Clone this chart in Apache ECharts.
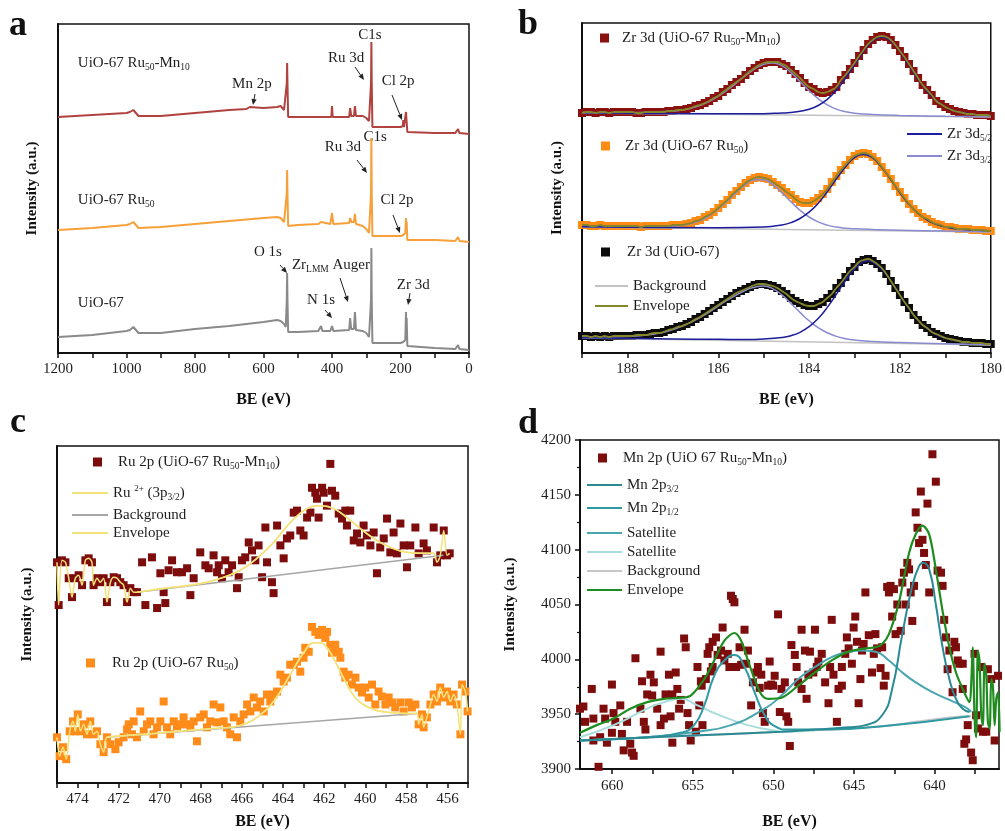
<!DOCTYPE html>
<html><head><meta charset="utf-8">
<script src="https://cdn.jsdelivr.net/npm/echarts@6/dist/echarts.min.js"></script>
<style>html,body{margin:0;padding:0;background:#fff}#c{width:1005px;height:831px}</style>
</head><body><div id="c"></div>
<script>
// ---------- Panel a: survey spectra [BE (eV), intensity a.u.] ----------
const surveyGray = [[1200,16],[1100,18],[1000,22],[990,23],[980,26],[975,25],[965,20],[960,18],[900,20],[800,24],[700,27],[600,31],[560,33],[550,32],[540,29],[535,26],[532,53],[531,80],[530,53],[528,21],[500,21],[440,22],[432,27],[428,22],[405,22],[400,27],[396,22],[350,23],[347,35],[344,24],[336,24],[333,41],[330,23],[310,22],[300,20],[292,16],[287,15],[286,53],[285,105],[284,53],[282,10],[200,10],[192,11],[186,13],[184,41],[183,28],[182,35],[180,7],[100,5],[40,4],[32,8],[28,4],[0,3]];
const surveyOrange = [[1200,123],[1100,125],[1000,128],[990,129],[980,131],[975,130],[965,125],[960,124],[900,126],[800,129],[700,132],[600,135],[560,136],[550,135],[540,131],[535,129],[532,160],[531,183],[530,160],[528,127],[500,128],[440,129],[432,131],[428,129],[405,129],[400,140],[396,129],[350,130],[347,135],[344,131],[336,131],[333,139],[330,129],[310,127],[300,124],[292,120],[287,118],[286,160],[285,215],[284,160],[282,117],[200,117],[192,118],[186,120],[184,135],[183,128],[182,131],[180,113],[100,113],[40,112],[32,116],[28,112],[0,111]];
const surveyRed = [[1200,236],[1100,238],[1000,240],[990,241],[980,243],[975,242],[965,237],[960,236],[900,237],[800,240],[700,243],[650,244],[640,246],[635,244],[600,245],[560,246],[550,247],[540,243],[535,241],[532,270],[531,290],[530,270],[528,236],[500,236],[402,236],[400,247],[398,236],[350,236],[347,245],[344,237],[336,237],[333,247],[330,237],[310,237],[300,235],[292,232],[287,231],[286,270],[285,311],[284,270],[282,226],[200,226],[193,227],[192,233],[190,226],[186,225],[184,241],[182,231],[180,221],[100,220],[40,220],[32,224],[28,220],[0,219]];
const surveyTicks = [0,100,200,300,400,500,600,700,800,900,1000,1100,1200];
const surveyLabels = [0,200,400,600,800,1000,1200];
// annotations [text, BE, intensity, align]
const surveyNotes = [
 ['{n|UiO-67 Ru}{s|50}{n|-Mn}{s|10}',1142,290,'left'],
 ['{n|Mn 2p}',634,269,'center'],
 ['{n|C1s}',289,318,'center'],
 ['{n|Ru 3d}',359,295,'center'],
 ['{n|Cl 2p}',207,272,'center'],
 ['{n|UiO-67 Ru}{s|50}',1142,153,'left'],
 ['{n|C1s}',274,216,'center'],
 ['{n|Ru 3d}',368,206,'center'],
 ['{n|Cl 2p}',210,153,'center'],
 ['{n|O 1s}',587,101,'center'],
 ['{n|Zr}{s|LMM}{n| Auger}',403,88,'center'],
 ['{n|N 1s}',432,53,'center'],
 ['{n|Zr 3d}',163,68,'center'],
 ['{n|UiO-67}',1142,50,'left']
];
const surveyArrows = [[624.8,259,630.7,248],[332.8,286,306.6,273],[224.8,258,195.6,233],[327,193,297.8,180],[221.9,138,201.5,120],[551.8,88,531.4,80],[376.6,75,353.3,51],[420.4,43,400,35],[172.3,60,178.1,48]];

// ---------- Panel b: Zr 3d ----------
const zrBE = [189.0,188.9,188.8,188.7,188.6,188.5,188.4,188.3,188.2,188.1,188.0,187.9,187.8,187.7,187.6,187.5,187.4,187.3,187.2,187.1,187.0,186.9,186.8,186.7,186.6,186.5,186.4,186.3,186.2,186.1,186.0,185.9,185.8,185.7,185.6,185.5,185.4,185.3,185.2,185.1,185.0,184.9,184.8,184.7,184.6,184.5,184.4,184.3,184.2,184.1,184.0,183.9,183.8,183.7,183.6,183.5,183.4,183.3,183.2,183.1,183.0,182.9,182.8,182.7,182.6,182.5,182.4,182.3,182.2,182.1,182.0,181.9,181.8,181.7,181.6,181.5,181.4,181.3,181.2,181.1,181.0,180.9,180.8,180.7,180.6,180.5,180.4,180.3,180.2,180.1,180.0];
const zrRed = [240,241,241,240,241,241,240,241,241,241,241,241,240,240,241,241,241,241,241,242,242,243,243,244,245,247,248,250,252,255,257,261,264,268,271,274,278,282,285,288,290,291,291,291,289,287,283,279,275,270,266,264,261,260,261,263,266,273,278,284,290,297,303,309,313,316,317,316,313,308,302,296,289,282,275,268,263,258,252,249,246,244,242,241,240,239,239,238,238,238,237];
const zrOrange = [128,128,127,127,128,127,127,127,127,127,127,127,127,126,127,127,127,127,127,127,128,128,128,129,130,132,133,136,138,141,145,149,153,158,162,166,170,173,175,176,175,174,171,168,165,161,158,154,151,150,150,152,155,159,164,171,177,183,188,193,197,199,200,199,196,192,186,180,174,167,161,155,149,144,140,136,134,131,129,128,126,126,125,124,124,124,123,123,123,122,122];
const zrBlack = [17,17,16,17,16,17,16,17,17,17,17,17,18,18,18,19,20,20,21,23,24,26,27,29,31,34,36,39,42,45,48,51,54,57,60,62,64,66,68,69,69,68,67,65,62,59,55,52,50,48,47,47,49,51,55,59,65,70,76,82,86,91,93,94,92,89,85,79,72,65,58,51,45,38,33,28,25,21,19,17,15,14,13,12,11,11,10,10,10,9,9];
const zrRedBg = [[189,240],[180,236]];
const zrOrgBg = [[189,126],[180,121]];
const zrBlkBg = [[189,15],[180,8]];
const zrRed32 = [[189,240.5],[188,240.2],[187,241.9],[186.6,244.7],[186.2,251.5],[185.8,263],[185.4,277.4],[185,288.6],[184.8,290.1],[184.6,287.4],[184.4,280.5],[184.2,271.5],[184,262.3],[183.8,254.3],[183.6,248.2],[183.4,243.9],[183.2,241.3],[183,239.8],[182.6,238.5],[182,237.6],[181,236.8],[180,236.3]];
const zrRed52 = [[189,240.2],[186,239.3],[185,239.3],[184.6,240],[184.4,240.5],[184.2,241.8],[184,243.7],[183.8,247.5],[183.6,253.7],[183.4,262.7],[183.2,274.6],[183,288.3],[182.8,301.9],[182.6,312.1],[182.4,316.1],[182.2,312],[182,301.6],[181.8,287.8],[181.6,273.9],[181.4,261.8],[181.2,252.6],[181,246.2],[180.8,242.3],[180.6,240.2],[180.4,238.8],[180.2,238.1],[180,237.4]];
const zrOrg32 = [[189,126.4],[188,126],[187,126.9],[186.6,129.5],[186.2,137.2],[185.8,152.1],[185.4,168.6],[185.2,173.3],[185,173.2],[184.8,168.3],[184.6,160.4],[184.4,151.3],[184.2,142.8],[184,136],[183.8,131.1],[183.6,127.9],[183.4,125.9],[183.2,124.8],[183,124.2],[182.6,123.5],[182,122.7],[181,122],[180,121.3]];
const zrOrg52 = [[189,126.3],[186,125.2],[185,126],[184.6,128],[184.4,130.4],[184.2,134.5],[184,140.9],[183.8,149.7],[183.6,161.2],[183.4,174],[183.2,186.1],[183,195.3],[182.8,198.6],[182.6,195],[182.4,185.6],[182.2,173.3],[182,160.3],[181.8,148.6],[181.6,139.6],[181.4,133],[181.2,128.7],[181,126],[180.6,123.5],[180,122.3]];
const zrBlk32 = [[189,15.9],[188,16.5],[187.4,19],[187,23.4],[186.6,30.6],[186.2,40.9],[185.8,52.8],[185.4,62.8],[185.2,65.8],[185,66.9],[184.8,64.4],[184.6,58.1],[184.4,49.6],[184.2,40.6],[184,32.2],[183.8,25.3],[183.6,20.3],[183.4,16.6],[183.2,14.3],[183,12.9],[182.6,11.4],[182,10.4],[181,9.2],[180,8.3]];
const zrBlk52 = [[189,15.3],[187,14],[186,13.7],[185.4,13.5],[185,14],[184.6,15.5],[184.4,17.3],[184.2,20.7],[184,26.3],[183.8,34.4],[183.6,45.6],[183.4,58.7],[183.2,72.3],[183,84.1],[182.8,91.1],[182.7,92.1],[182.6,91],[182.4,83.7],[182.2,71.6],[182,57.7],[181.8,44.2],[181.6,32.8],[181.4,24.3],[181.2,18.4],[181,14.7],[180.6,11.2],[180.2,9.8],[180,9.3]];
const zrTicks = [180,181,182,183,184,185,186,187,188,189];
const zrLabels = [180,182,184,186,188];

// ---------- Panel c: Ru 2p ----------
const ruRedZigL = [[475.00,222],[474.92,179],[474.76,224],[474.59,222],[474.43,206],[474.27,187],[474.11,206],[473.95,209],[473.78,199],[473.62,224],[473.46,226],[473.30,222],[473.22,199],[473.05,206],[472.89,202],[472.73,206],[472.57,182],[472.40,202],[472.24,207],[472.08,206],[471.92,202],[471.76,199],[471.59,182],[471.43,196],[471.27,192],[471.11,192]];
const ruRedPts = [[470.86,222],[470.70,179],[470.38,227],[470.13,176],[469.97,211],[469.81,192],[469.73,181],[469.57,214],[469.40,224],[469.16,212],[468.92,212],[468.67,216],[468.51,189],[468.35,206],[468.03,232],[467.78,219],[467.62,216],[467.38,229],[467.21,212],[467.13,219],[466.97,206],[466.81,224],[466.65,212],[466.48,219],[466.24,196],[466.16,207],[466.00,224],[465.84,227],[465.67,242],[465.51,234],[465.35,224],[465.19,239],[465.02,207],[464.86,257],[464.78,222],[464.54,202],[464.46,191],[464.29,259],[464.13,239],[463.97,226],[463.81,246],[463.65,249],[463.48,272],[463.32,274],[463.16,254],[463.00,249],[462.83,267],[462.67,272],[462.59,297],[462.43,292],[462.35,286],[462.27,267],[462.10,297],[462.02,292],[461.86,279],[461.70,321],[461.62,294],[461.46,289],[461.29,271],[461.13,266],[460.97,274],[460.89,259],[460.73,274],[460.56,244],[460.40,251],[460.24,242],[460.08,259],[459.92,249],[459.75,239],[459.59,252],[459.43,211],[459.27,237],[459.10,246],[458.94,266],[458.78,232],[458.62,252],[458.46,231],[458.29,261],[458.13,239],[457.97,217],[457.81,239],[457.56,257],[457.40,231],[457.16,241],[457.00,234],[456.67,257]];
const ruRedZigR = [[456.51,222],[456.35,229],[456.18,254],[456.02,229],[455.89,231]];
const ruRedFit = [[471.11,192],[470.13,195],[468.51,199],[467.70,202],[466.89,207],[466.08,214],[465.27,226],[464.46,242],[463.65,262],[462.83,276],[462.19,279],[461.54,276],[460.89,267],[460.24,256],[459.59,246],[458.78,237],[457.97,232],[457.16,231],[456.67,231]];
const ruRedBg = [[471.11,192],[456.2,229]];
const ruOrgZigL = [[475.00,46],[474.87,27],[474.71,36],[474.55,24],[474.38,52],[474.22,62],[474.11,52],[473.99,69],[473.86,52],[473.70,59],[473.54,49],[473.38,62],[473.22,49],[473.05,52],[472.89,39],[472.73,31],[472.57,46]];
const ruOrgPts = [[472.40,39],[472.16,34],[472.00,41],[471.76,46],[471.59,54],[471.51,59],[471.35,49],[471.27,62],[471.11,46],[470.95,72],[470.78,52],[470.62,59],[470.46,62],[470.30,49],[470.13,56],[469.97,62],[469.81,82],[469.65,56],[469.49,49],[469.32,62],[469.16,57],[469.00,59],[468.84,66],[468.67,59],[468.51,56],[468.35,62],[468.19,42],[468.03,66],[467.86,69],[467.70,56],[467.54,62],[467.38,79],[467.21,61],[467.05,76],[466.89,62],[466.73,56],[466.57,49],[466.40,66],[466.24,46],[466.08,62],[465.92,69],[465.75,79],[465.59,72],[465.43,86],[465.27,76],[465.11,82],[464.94,72],[464.78,89],[464.62,82],[464.46,89],[464.29,92],[464.13,109],[463.97,102],[463.81,106],[463.65,119],[463.48,119],[463.32,122],[463.16,112],[463.00,126],[462.92,136],[462.75,132],[462.59,157],[462.43,152],[462.27,149],[462.10,154],[461.94,146],[461.86,152],[461.70,139],[461.62,131],[461.46,139],[461.29,132],[461.21,126],[461.05,112],[460.97,106],[460.81,109],[460.65,99],[460.48,106],[460.32,96],[460.16,91],[460.00,96],[459.83,86],[459.67,99],[459.51,79],[459.35,92],[459.19,87],[459.02,79],[458.86,86],[458.70,81],[458.54,76],[458.29,81],[458.13,72],[457.89,81],[457.73,76],[457.56,79]];
const ruOrgZigR = [[457.40,59],[457.24,69],[457.16,56],[457.00,66],[456.83,79],[456.67,89],[456.51,82],[456.35,96],[456.18,86],[456.02,92],[455.86,82],[455.70,89],[455.54,79],[455.37,49],[455.29,99],[455.13,92],[455.02,72]];
const ruOrgFit = [[472.57,46],[471.76,47.5],[470.13,50],[468.51,53],[466.89,55.5],[466.08,58],[465.27,66],[464.46,82],[463.65,109],[463.00,131],[462.51,141],[462.19,141],[461.86,136],[461.38,119],[460.89,99],[460.40,84],[459.59,74],[458.78,71],[457.97,70],[457.48,70]];
const ruOrgBg = [[472.57,46],[457.48,70]];
const ruTicks = [455,456,457,458,459,460,461,462,463,464,465,466,467,468,469,470,471,472,473,474,475];
const ruLabels = [456,458,460,462,464,466,468,470,472,474];

// ---------- Panel d: Mn 2p ----------
const mnPts = [[662.00,3955],[661.79,3957],[661.69,3943],[661.27,3973],[661.17,3946],[661.17,3926],[660.85,3902],[660.75,3929],[660.54,3955],[660.44,3946],[660.33,3924],[660.02,3977],[660.02,3933],[659.92,3951],[659.81,3943],[659.50,3958],[659.40,3932],[659.29,3917],[659.08,3943],[658.88,3923],[658.77,3915],[658.67,3912],[658.56,4001],[658.25,3955],[658.15,3980],[658.04,3943],[657.94,3936],[657.83,3968],[657.63,3986],[657.52,3967],[657.42,3979],[657.21,3955],[657.00,4007],[657.00,3940],[656.79,3946],[656.69,3968],[656.48,3986],[656.38,3948],[656.27,3968],[656.27,3924],[656.06,3988],[655.96,3973],[655.85,3955],[655.75,3963],[655.54,4019],[655.44,4011],[655.33,3951],[655.23,3940],[655.13,3926],[654.81,3934],[654.71,3993],[654.60,3958],[654.50,3980],[654.45,3976],[654.40,3940],[654.19,3982],[654.08,4005],[653.98,4011],[653.88,3989],[653.77,3993],[653.77,4016],[653.56,4020],[653.46,4004],[653.25,4008],[653.15,4029],[653.04,3999],[652.83,4005],[652.73,3993],[652.63,4058],[652.52,4055],[652.42,4052],[652.31,3993],[652.10,4011],[652.00,3995],[651.79,4027],[651.69,3996],[651.58,4008],[651.38,3958],[651.27,3979],[651.06,3988],[650.96,3993],[650.85,3974],[650.75,3986],[650.65,3951],[650.54,3943],[650.33,3976],[650.23,3998],[650.13,3977],[650.02,3976],[649.92,3985],[649.71,4041],[649.60,3952],[649.50,3973],[649.29,3979],[649.19,3948],[649.08,3943],[648.98,3921],[648.88,4013],[648.67,4004],[648.56,3993],[648.46,3979],[648.25,3973],[648.25,4027],[648.04,4008],[647.94,3964],[647.83,3986],[647.73,4007],[647.52,3988],[647.42,4027],[647.31,3993],[647.21,3998],[647.00,4005],[646.79,3979],[646.58,3960],[646.48,3993],[646.38,4036],[646.27,3986],[646.06,3943],[645.96,3973],[645.75,3993],[645.75,3976],[645.54,4005],[645.44,4020],[645.33,4010],[645.13,3996],[645.02,4029],[644.92,4039],[644.81,4016],[644.71,3960],[644.60,3982],[644.50,4008],[644.40,4014],[644.29,4061],[644.08,4022],[643.88,3988],[643.77,4005],[643.67,4023],[643.56,4010],[643.35,3992],[643.25,4011],[643.15,3976],[643.04,3985],[642.94,4066],[642.83,4061],[642.73,4067],[642.63,4039],[642.52,4064],[642.42,4023],[642.31,4050],[642.10,4026],[642.00,4070],[641.90,4079],[641.79,4050],[641.69,4088],[641.58,4082],[641.48,4061],[641.38,4035],[641.27,4067],[641.17,4134],[641.06,4120],[640.96,4106],[640.85,4153],[640.75,4109],[640.65,4097],[640.54,4086],[640.44,4142],[640.33,4061],[640.13,4187],[639.92,4162],[639.81,4081],[639.60,4079],[639.50,4067],[639.40,4036],[639.29,4020],[639.19,3991],[639.08,4008],[638.88,3970],[638.77,4016],[638.67,4011],[638.56,3999],[638.46,3996],[638.25,3996],[638.25,3973],[638.15,3923],[638.04,3927],[637.94,3940],[637.73,3915],[637.63,3908],[637.52,4005],[637.42,3949],[637.31,3937],[637.10,3993],[637.00,3934],[636.79,3934],[636.69,3991],[636.48,3982],[636.27,3926],[636.06,3985],[635.96,3967]];
const mnEnv = [[662.00,3933],[660.96,3940],[659.92,3946],[658.88,3955],[657.83,3961],[656.79,3964],[655.75,3965],[655.13,3967],[654.29,3982],[653.67,3999],[653.04,4017],[652.42,4024],[652.00,4017],[651.58,3999],[651.17,3982],[650.75,3968],[650.33,3964],[649.50,3965],[648.46,3976],[647.42,3988],[646.38,3999],[645.33,4007],[644.29,4010],[643.67,4011],[643.25,4014],[642.83,4023],[642.21,4052],[641.58,4097],[641.17,4114],[640.75,4122],[640.33,4114],[639.92,4082],[639.50,4044],[639.08,4011],[638.67,3988],[638.25,3973],[637.83,3961],[637.73,3976],[637.63,4011],[637.52,3949],[637.42,3929],[637.31,4008],[637.21,3999],[637.10,3949],[637.00,3940],[636.90,3996],[636.79,3985],[636.69,3943],[636.58,3937],[636.48,3982],[636.38,3976],[636.27,3940],[636.17,3964],[636.06,3970],[635.96,3934]];
const mnP32 = [[662.00,3926],[655.75,3930],[649.50,3934],[647.42,3936],[645.33,3938],[644.29,3940],[643.25,3949],[642.63,3973],[642.00,4023],[641.38,4067],[640.96,4085],[640.71,4088],[640.33,4082],[639.92,4050],[639.50,4011],[639.08,3982],[638.67,3964],[638.25,3955],[637.83,3952]];
const mnP12 = [[662.00,3926],[657.83,3929],[655.75,3933],[654.92,3940],[654.29,3958],[653.67,3985],[653.04,3999],[652.42,4004],[651.79,3993],[651.17,3970],[650.54,3949],[649.92,3939],[649.08,3936],[647.42,3936],[643.25,3939],[637.83,3948]];
const mnSat1 = [[662.00,3926],[657.83,3929],[654.71,3934],[652.63,3940],[650.54,3955],[649.50,3967],[648.46,3982],[647.42,3993],[646.38,4002],[645.33,4007],[644.50,4008],[643.67,4007],[642.83,3999],[642.00,3988],[641.17,3979],[640.13,3970],[639.08,3963],[638.04,3956],[637.73,3952]];
const mnSat2 = [[662.00,3929],[659.92,3940],[657.83,3955],[656.79,3961],[655.75,3964],[654.71,3958],[653.67,3951],[652.63,3945],[651.58,3940],[650.33,3936],[649.08,3934],[647.42,3935]];
const mnBg = [[662.00,3926],[655.75,3930],[649.50,3934],[643.25,3939],[641.17,3943],[639.08,3947],[637.73,3948]];
const mnTicks = [637.5,640,642.5,645,647.5,650,652.5,655,657.5,660];
const mnLabels = [640,645,650,655,660];

// ---------- styling ----------
const F = "'Liberation Serif','Times New Roman',serif";
const TXT = '#1e1e1e';
const rich = {
  n:{fontFamily:F,fontSize:15,color:TXT,lineHeight:18},
  s:{fontFamily:F,fontSize:9.5,color:TXT,lineHeight:18,verticalAlign:'bottom'},
  p:{fontFamily:F,fontSize:9,color:TXT,lineHeight:18,verticalAlign:'top'}
};
const pair = (xs, ys) => xs.map((x, i) => [x, ys[i]]);
const plain = v => String(v);

const grids = [
  {left:58, top:24, width:411, height:329},
  {left:582, top:23, width:411, height:330},
  {left:57, top:446, width:411, height:339},
  {left:580, top:440, width:419, height:339}
].map(g => Object.assign(g, {show:true, borderColor:'#111', borderWidth:1.5, backgroundColor:'rgba(0,0,0,0)'}));

function xAx(gi, min, max, ticks, labels, gap, margin) {
  return {type:'value', gridIndex:gi, min, max, inverse:true,
    axisLine:{show:true, onZero:false, lineStyle:{color:'#111', width:2}},
    axisTick:{show:true, inside:false, length:5, lineStyle:{color:'#111', width:1.5}, customValues:ticks},
    axisLabel:{color:TXT, fontFamily:F, fontSize:15, margin:margin, customValues:labels, formatter:plain},
    splitLine:{show:false},
    name:'BE (eV)', nameLocation:'middle', nameGap:gap,
    nameTextStyle:{fontFamily:F, fontWeight:'bold', fontSize:16, color:'#111'}};
}
function yAx(gi, min, max, gap, extra) {
  return Object.assign({type:'value', gridIndex:gi, min, max,
    axisLine:{show:true, onZero:false, lineStyle:{color:'#111', width:2}},
    axisTick:{show:false}, axisLabel:{show:false}, splitLine:{show:false},
    name:'Intensity (a.u.)', nameLocation:'middle', nameGap:gap, nameRotate:90,
    nameTextStyle:{fontFamily:F, fontWeight:'bold', fontSize:15, color:'#111'}}, extra || {});
}

function ln(name, gi, data, color, width, smooth, z) {
  return {name, type:'line', xAxisIndex:gi, yAxisIndex:gi, data, symbol:'none', showSymbol:false,
    smooth: smooth, color: color, itemStyle:{color:color}, lineStyle:{color:color, width:width},
    z: z || 3, silent:true, animation:false};
}
function sc(name, gi, data, color, size) {
  return {name, type:'scatter', xAxisIndex:gi, yAxisIndex:gi, data, symbol:'rect', symbolSize:size,
    color: color, itemStyle:{color:color, opacity:1}, z:2, silent:true, animation:false};
}

const cBlue52 = '#1c1c9c', cBlue32 = '#8a8ad0', cOlive = '#86862a', cBgB = '#c2c2c2';
const cYel = '#f3e27a', cBgC = '#a6a6a6';
const cEnvD = '#1f8c1f', cP32 = '#2a8a94', cP12 = '#2f9aa2', cSat1 = '#4aa6ae', cSat2 = '#a9dcdc', cBgD = '#c6c6c6';

const series = [
  // a
  ln('a_gray', 0, surveyGray, '#8a8a8a', 2, false),
  ln('a_org', 0, surveyOrange, '#f7a03a', 2, false),
  ln('a_red', 0, surveyRed, '#b0423f', 2, false),
  // b
  sc('b_red', 1, pair(zrBE, zrRed), '#8b1010', 8),
  sc('b_org', 1, pair(zrBE, zrOrange), '#ff8a14', 8),
  sc('b_blk', 1, pair(zrBE, zrBlack), '#0c0c0c', 8),
  ln('b_bg', 1, zrRedBg, cBgB, 1.5, false),
  ln('b_bg', 1, zrOrgBg, cBgB, 1.5, false),
  ln('b_bg', 1, zrBlkBg, cBgB, 1.5, false),
  ln('b_d32', 1, zrRed32, cBlue32, 1.5, true),
  ln('b_d32', 1, zrOrg32, cBlue32, 1.5, true),
  ln('b_d32', 1, zrBlk32, cBlue32, 1.5, true),
  ln('b_d52', 1, zrRed52, cBlue52, 1.5, true),
  ln('b_d52', 1, zrOrg52, cBlue52, 1.5, true),
  ln('b_d52', 1, zrBlk52, cBlue52, 1.5, true),
  ln('b_env', 1, pair(zrBE, zrRed), cOlive, 1.8, true, 4),
  ln('b_env', 1, pair(zrBE, zrOrange), cOlive, 1.8, true, 4),
  ln('b_env', 1, pair(zrBE, zrBlack), cOlive, 1.8, true, 4),
  // c
  sc('c_red', 2, ruRedZigL.concat(ruRedPts, ruRedZigR), '#7d0c0c', 8),
  sc('c_org', 2, ruOrgZigL.concat(ruOrgPts, ruOrgZigR), '#ff8c1a', 8),
  ln('c_bg', 2, ruRedBg, cBgC, 1.5, false),
  ln('c_bg', 2, ruOrgBg, cBgC, 1.5, false),
  ln('c_ru', 2, ruRedFit, cYel, 1.5, true),
  ln('c_ru', 2, ruOrgFit, cYel, 1.5, true),
  ln('c_env', 2, ruRedZigL.concat(ruRedFit, ruRedZigR), cYel, 1.5, 0.3, 4),
  ln('c_env', 2, ruOrgZigL.concat(ruOrgFit, ruOrgZigR), cYel, 1.5, 0.3, 4),
  // d
  sc('d_pts', 3, mnPts, '#7d0c0c', 8),
  ln('d_bg', 3, mnBg, cBgD, 2, true),
  ln('d_sat2', 3, mnSat2, cSat2, 2, true),
  ln('d_sat1', 3, mnSat1, cSat1, 2, true),
  ln('d_p12', 3, mnP12, cP12, 2, true),
  ln('d_p32', 3, mnP32, cP32, 2, true),
  ln('d_env', 3, mnEnv, cEnvD, 2.2, 0.3, 4)
];

const legendText = {
  b_red:'{n|Zr 3d (UiO-67 Ru}{s|50}{n|-Mn}{s|10}{n|)}',
  b_org:'{n|Zr 3d (UiO-67 Ru}{s|50}{n|)}',
  b_blk:'{n|Zr 3d (UiO-67)}',
  b_bg:'{n|Background}', b_env:'{n|Envelope}',
  b_d52:'{n|Zr 3d}{s|5/2}', b_d32:'{n|Zr 3d}{s|3/2}',
  c_red:'{n|Ru 2p (UiO-67 Ru}{s|50}{n|-Mn}{s|10}{n|)}',
  c_ru:'{n|Ru }{p|2+}{n| (3p}{s|3/2}{n|)}',
  c_bg:'{n|Background}', c_env:'{n|Envelope}',
  c_org:'{n|Ru 2p (UiO-67 Ru}{s|50}{n|)}',
  d_pts:'{n|Mn 2p (UiO 67 Ru}{s|50}{n|-Mn}{s|10}{n|)}',
  d_p32:'{n|Mn 2p}{s|3/2}', d_p12:'{n|Mn 2p}{s|1/2}',
  d_sat1:'{n|Satellite}', d_sat2:'{n|Satellite}',
  d_bg:'{n|Background}', d_env:'{n|Envelope}'
};
// [series name, icon left, centre y, icon w, icon h, text left]
const legendPlaces = [
  ['b_red',600,38,9,9,622],['b_org',601,146,9,9,625],['b_blk',601,252,9,9,627],
  ['b_bg',595,286,33,2,632],['b_env',595,306,33,2,632],
  ['b_d52',907,134,35,2,945],['b_d32',907,156,35,2,945],
  ['c_red',93,462,9,9,118],['c_ru',72,493,36,2,110],['c_bg',72,515,36,2,110],['c_env',72,533,36,2,110],
  ['c_org',86,663,9,9,112],
  ['d_pts',598,458,9,9,623],['d_p32',587,485,35,2,626],['d_p12',587,508,35,2,626],
  ['d_sat1',587,533,35,2,626],['d_sat2',587,552,35,2,626],['d_bg',587,571,35,2,626],['d_env',587,590,35,2,626]
];
const legends = legendPlaces.map(p => ({
  data:[p[0]], left:p[1], top:p[2]-9, orient:'horizontal', icon:'rect', itemWidth:p[3], itemHeight:p[4],
  padding:0, selectedMode:false, formatter: n => legendText[n],
  textStyle:{fontFamily:F, fontSize:15, color:TXT, lineHeight:18, rich:rich, padding:[0,0,0,Math.max(0,p[5]-p[1]-p[3]-5)]}
}));

const chart = echarts.init(document.getElementById('c'));
chart.setOption({
  animation:false,
  backgroundColor:'#ffffff',
  grid: grids,
  xAxis: [
    xAx(0, 0, 1200, surveyTicks, surveyLabels, 39, 9),
    xAx(1, 180, 189, zrTicks, zrLabels, 39, 9),
    xAx(2, 455, 475, ruTicks, ruLabels, 31, 9),
    xAx(3, 636, 662, mnTicks, mnLabels, 45, 10)
  ],
  yAxis: [
    yAx(0, 0, 329, 18),
    yAx(1, 0, 330, 17),
    yAx(2, 0, 339, 22),
    yAx(3, 3900, 4200, 62, {
      interval:50,
      axisTick:{show:true, inside:false, length:5, lineStyle:{color:'#111', width:1.5}},
      minorTick:{show:true, splitNumber:2, length:3, lineStyle:{color:'#111', width:1.2}},
      axisLabel:{show:true, color:TXT, fontFamily:F, fontSize:15, margin:9, formatter:plain}
    })
  ],
  legend: legends,
  series: series
});

// annotations for panel a and panel letters
const graphics = [];
surveyNotes.forEach(n => {
  const p = chart.convertToPixel({xAxisIndex:0, yAxisIndex:0}, [n[1], n[2]]);
  graphics.push({type:'text', x:p[0], y:p[1], silent:true,
    style:{text:n[0], rich:rich, align:n[3], verticalAlign:'middle', fill:TXT}});
});
surveyArrows.forEach(a => {
  const p1 = chart.convertToPixel({xAxisIndex:0, yAxisIndex:0}, [a[0], a[1]]);
  const p2 = chart.convertToPixel({xAxisIndex:0, yAxisIndex:0}, [a[2], a[3]]);
  const dx = p2[0]-p1[0], dy = p2[1]-p1[1], L = Math.hypot(dx, dy) || 1;
  const ux = dx/L, uy = dy/L, hl = 6, hw = 2.6;
  const bx = p2[0]-ux*hl, by = p2[1]-uy*hl;
  graphics.push({type:'line', silent:true, shape:{x1:p1[0], y1:p1[1], x2:bx, y2:by}, style:{stroke:'#222', lineWidth:1}});
  graphics.push({type:'polygon', silent:true, shape:{points:[[p2[0],p2[1]],[bx-uy*hw,by+ux*hw],[bx+uy*hw,by-ux*hw]]}, style:{fill:'#222'}});
});
[['a',18,26],['b',528,25],['c',18,423],['d',528,424]].forEach(l => {
  graphics.push({type:'text', x:l[1], y:l[2], silent:true,
    style:{text:l[0], font:"bold 36px 'Liberation Serif', serif", fill:'#111', align:'center', verticalAlign:'middle'}});
});
chart.setOption({graphic: graphics});
</script></body></html>
